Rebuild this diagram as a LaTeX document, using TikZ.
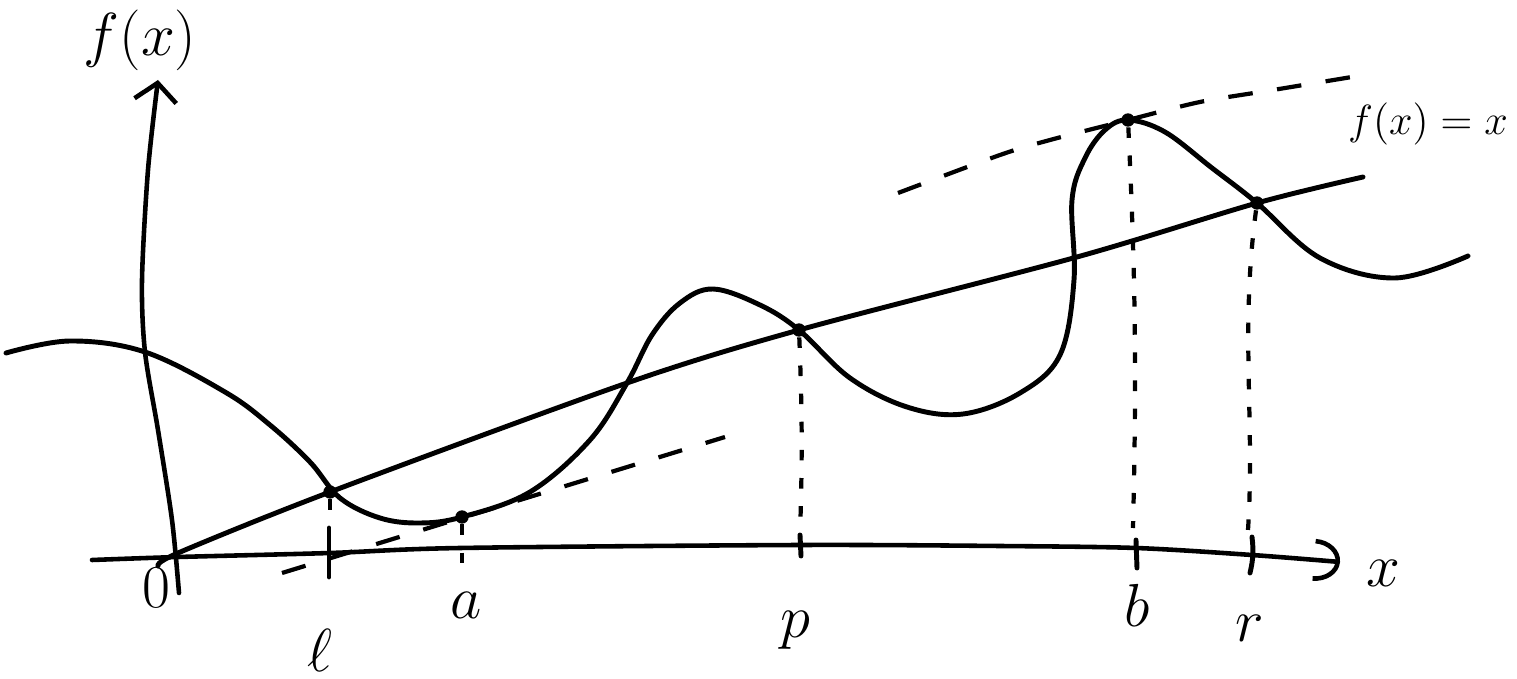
\documentclass[tikz,border=0pt]{standalone}
\usepackage{amsmath}
\usepackage{tikz}
\usetikzlibrary{arrows.meta}
\tikzset{
  curvestroke/.style={line width=1.4pt,line cap=round,line join=round},
  axisline/.style={line width=1.3pt,line cap=round},
  guideline/.style={line width=1.2pt,dash pattern=on 7pt off 7pt},
  dropline/.style={line width=1.2pt,dash pattern=on 3pt off 5pt},
  tickmark/.style={line width=1.4pt,line cap=round},
  pointdot/.style={circle,fill=black,inner sep=0pt,minimum size=3.8pt},
  axislabel/.style={font=\fontsize{19}{21}\selectfont,inner sep=0pt}
}

\begin{document}
\begin{tikzpicture}[x=0.01cm,y=-0.01cm]
\useasboundingbox (0,0) rectangle (1517,679);
% axes
\draw[axisline,-{Arc Barb[length=2.6mm,width=4.2mm]}] plot[smooth] coordinates {(92,560) (178,557) (330,553) (460,548) (800,545) (1000,546) (1136,548) (1252,555) (1340,562)};
\draw[axisline,-{Straight Barb[length=1.8mm,width=4.2mm]}] plot[smooth] coordinates {(179,593) (172,520) (158,430) (145,352) (142,280) (148,170) (158,80)};
\node[axislabel] (ylbl) at (140,40) {$f(x)$};
\node[axislabel] (xlbl) at (1383,573) {$x$};
\node[axislabel] (orig) at (156,588) {$0$};
% the line f(x)=x
\draw[curvestroke] plot[smooth] coordinates {(158,566) (178,553) (330,492) (627,383) (799,330) (1077,257) (1257,203) (1363,177)};
\node[font=\fontsize{13}{15}\selectfont,inner sep=0pt] (fxlbl) at (1428,124) {$f(x)=x$};
% the curve f
\draw[curvestroke] plot[smooth,tension=0.6] coordinates {(6,353) (70,341) (145,352) (225,392) (270,425) (310,462) (340,498) (380,518) (420,523) (462,517) (530,492) (590,440) (627,383) (652,335) (680,303) (713,289) (760,305) (799,330) (850,378) (907,407) (963,414) (1020,393) (1060,355) (1074,280) (1072,200) (1085,158) (1105,130) (1128,120) (1165,132) (1212,168) (1257,203) (1320,258) (1395,278) (1468,256)};
% guide lines
\coordinate (ta1) at (282,573);
\coordinate (ta2) at (725,437);
\draw[guideline] (ta1) -- (ta2);
\draw[guideline] plot[smooth] coordinates {(898,193) (1000,155) (1050,140) (1128,120) (1200,102) (1273,90) (1370,74)};
% points
\node[pointdot] (l) at (330,492) {};
\node[pointdot] (a) at (462,517) {};
\node[pointdot] (p) at (799,330) {};
\node[pointdot] (b) at (1128,120) {};
\node[pointdot] (r) at (1257,203) {};
% ticks
\draw[tickmark] (329,528) -- (329,577);
\draw[tickmark] (800,535) -- (801,556);
\draw[tickmark] (1136,540) -- (1137,568);
\draw[tickmark] (1252,537) to[bend left=10] (1250,573);
\coordinate (lt) at (330,522);
\coordinate (at) at (462,570);
\coordinate (pt) at (800,535);
\coordinate (bt) at (1133,528);
\coordinate (rt) at (1248,530);
% drop lines
\draw[dropline] (l) -- (lt);
\draw[dropline] (a) -- (at);
\draw[dropline] (p) to[bend left=2] (pt);
\draw[dropline] (b) to[bend left=2] (bt);
\draw[dropline] (r) .. controls (1240,330) and (1255,420) .. (rt);
% labels
\node[axislabel] (lbl-l) at (320,650) {$\ell$};
\node[axislabel] (lbl-a) at (466,605) {$a$};
\node[axislabel] (lbl-p) at (795,630) {$p$};
\node[axislabel] (lbl-b) at (1137,605) {$b$};
\node[axislabel] (lbl-r) at (1250,628) {$r$};
\end{tikzpicture}
\end{document}
